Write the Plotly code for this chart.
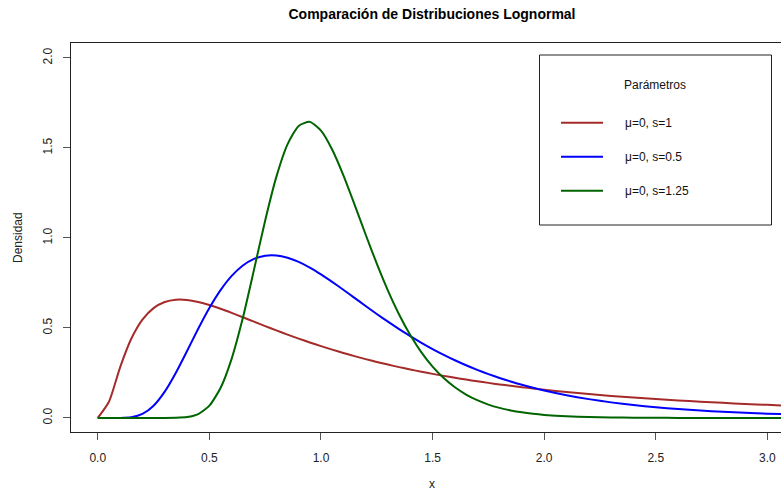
import plotly.graph_objects as go

# ---- data ----
x_vals = [0.0, 0.05, 0.10, 0.15, 0.20, 0.25, 0.30, 0.35, 0.40, 0.45, 0.50, 0.55, 0.60, 0.65, 0.70,
          0.75, 0.80, 0.85, 0.90, 0.95, 1.00, 1.05, 1.10, 1.15, 1.20, 1.25, 1.30, 1.35, 1.40, 1.45,
          1.50, 1.55, 1.60, 1.65, 1.70, 1.75, 1.80, 1.85, 1.90, 1.95, 2.00, 2.1, 2.2, 2.3, 2.4,
          2.5, 2.6, 2.7, 2.8, 2.9, 3.0, 3.1]

red_vals = [0.0, 0.0898, 0.2815, 0.4398, 0.5463, 0.6104, 0.6442, 0.6570, 0.6555, 0.6445, 0.6275,
            0.6066, 0.5836, 0.5594, 0.5348, 0.5104, 0.4864, 0.4632, 0.4408, 0.4194, 0.3989, 0.3795,
            0.3610, 0.3435, 0.3270, 0.3113, 0.2965, 0.2825, 0.2693, 0.2568, 0.2450, 0.2338, 0.2233,
            0.2133, 0.2039, 0.1949, 0.1865, 0.1785, 0.1709, 0.1637, 0.1569, 0.1443, 0.1329, 0.1226,
            0.1133, 0.1049, 0.0972, 0.0902, 0.0839, 0.0781, 0.0727, 0.0679]

blue_vals = [0.0, 0.0, 0.0002, 0.0040, 0.0225, 0.0683, 0.1465, 0.2516, 0.3721, 0.4953, 0.6104,
             0.7098, 0.7891, 0.8469, 0.8838, 0.9016, 0.9028, 0.8904, 0.8671, 0.8355, 0.7979, 0.7563,
             0.7123, 0.6672, 0.6221, 0.5778, 0.5348, 0.4936, 0.4544, 0.4175, 0.3829, 0.3506, 0.3206,
             0.2928, 0.2673, 0.2437, 0.2221, 0.2023, 0.1842, 0.1677, 0.1526, 0.1264, 0.1046, 0.0866,
             0.0718, 0.0595, 0.0494, 0.0411, 0.0342, 0.0285, 0.0238, 0.0199]

green_vals = [0.0, 0.0, 0.0, 0.0, 0.0, 0.0, 0.0, 0.0007, 0.0048, 0.0216, 0.0683, 0.1663, 0.3298,
              0.5563, 0.8239, 1.0974, 1.3393, 1.5198, 1.6224, 1.6448, 1.5958, 1.4911, 1.3490, 1.1869,
              1.0193, 0.8571, 0.7077, 0.5751, 0.4608, 0.3647, 0.2856, 0.2215, 0.1703, 0.1301, 0.0987,
              0.0744, 0.0559, 0.0418, 0.0311, 0.0231, 0.0171, 0.0093, 0.0050, 0.0027, 0.0014, 0.0008,
              0.0004, 0.0002, 0.0001, 0.0001, 0.0, 0.0]

series_names = ["μ=0, s=1", "μ=0, s=0.5", "μ=0, s=1.25"]
series_colors = ["#A52A2A", "#0000FF", "#006400"]
x_ticks = [0.0, 0.5, 1.0, 1.5, 2.0, 2.5, 3.0]
y_ticks = [0.0, 0.5, 1.0, 1.5, 2.0]

title_text = "Comparación de Distribuciones Lognormal"
legend_title = "Parámetros"

FONT = "Liberation Sans, Arial, sans-serif"
W, H = 781, 492
ML, MR, MT, MB = 71, 0, 43, 60

fig = go.Figure()
for ys, name, col in zip([red_vals, blue_vals, green_vals], series_names, series_colors):
    fig.add_trace(go.Scatter(x=x_vals, y=ys, mode="lines", name=name,
                             line=dict(color=col, width=2, shape="spline", smoothing=0.6),
                             showlegend=False, hoverinfo="skip"))

def px2paper(px, py):
    return (px - ML) / (W - ML - MR), (H - MB - py) / (H - MT - MB)

shapes = []
annotations = []

# legend box
x0, y0 = px2paper(539.5, 55)
x1, y1 = px2paper(771.5, 225)
shapes.append(dict(type="rect", xref="paper", yref="paper", x0=x0, y0=y1, x1=x1, y1=y0,
                   line=dict(color="#222222", width=1), fillcolor="white", layer="above"))
tx, ty = px2paper(655, 85)
annotations.append(dict(text=legend_title, xref="paper", yref="paper", x=tx, y=ty,
                        showarrow=False, xanchor="center", yanchor="middle",
                        font=dict(family=FONT, size=12, color="#111111")))
for i, (name, col) in enumerate(zip(series_names, series_colors)):
    py = 122.7 + 34 * i
    lx0, ly = px2paper(561, py)
    lx1, _ = px2paper(603, py)
    shapes.append(dict(type="line", xref="paper", yref="paper", x0=lx0, x1=lx1, y0=ly, y1=ly,
                       line=dict(color=col, width=2), layer="above"))
    ax, ay = px2paper(622.5, py)
    annotations.append(dict(text=name, xref="paper", yref="paper", x=ax, y=ay,
                            showarrow=False, xanchor="left", yanchor="middle",
                            font=dict(family=FONT, size=12, color="#111111")))

# axis titles
xt = px2paper(432, 484)
annotations.append(dict(text="x", xref="paper", yref="paper", x=xt[0], y=xt[1],
                        showarrow=False, xanchor="center", yanchor="middle",
                        font=dict(family=FONT, size=12, color="#222222")))
yt = px2paper(18, 238)
annotations.append(dict(text="Densidad", xref="paper", yref="paper", x=yt[0], y=yt[1],
                        textangle=-90, showarrow=False, xanchor="center", yanchor="middle",
                        font=dict(family=FONT, size=12, color="#222222")))

fig.update_layout(
    width=W, height=H,
    margin=dict(l=ML, r=MR, t=MT, b=MB, pad=0),
    paper_bgcolor="white", plot_bgcolor="white",
    title=dict(text="<b>" + title_text + "</b>", xref="container", yref="container",
               x=432 / W, y=1 - 14 / H, xanchor="center", yanchor="middle",
               font=dict(family=FONT, size=14, color="#000000")),
    xaxis=dict(range=[-0.12, 3.061], showgrid=False, zeroline=False,
               showline=True, mirror=True, linecolor="#222222", linewidth=1,
               ticks="outside", ticklen=7, tickcolor="#555555", tickwidth=1,
               tickvals=x_ticks, ticktext=[f"{v:.1f}" for v in x_ticks],
               ticklabelstandoff=8,
               tickfont=dict(family=FONT, size=12, color="#222222")),
    yaxis=dict(range=[-0.078, 2.083], showgrid=False, zeroline=False,
               showline=True, mirror=False, linecolor="#222222", linewidth=1,
               ticks="outside", ticklen=7, tickcolor="#555555", tickwidth=1,
               tickvals=y_ticks, ticktext=[f"{v:.1f}" for v in y_ticks],
               tickangle=-90, ticklabelstandoff=6,
               tickfont=dict(family=FONT, size=12, color="#222222")),
    shapes=shapes, annotations=annotations,
)

fig.write_html("out.html")
